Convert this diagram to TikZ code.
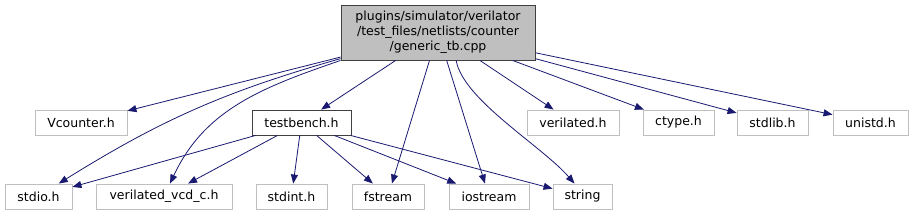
\documentclass[tikz,border=0pt]{standalone}
\usepackage{fontspec}
\setmainfont{DejaVu Sans}
\usepackage{tikz}
\usetikzlibrary{arrows.meta}
\definecolor{edgeblue}{RGB}{25, 25, 112}
\definecolor{boxgrey}{RGB}{191, 191, 191}
\definecolor{linkgrey}{RGB}{64, 64, 64}

\begin{document}
\begin{tikzpicture}[x=1pt, y=1pt, >={Triangle[length=9pt, width=7pt]},
    every node/.style={font=\fontsize{12.5}{15}\selectfont, inner sep=0pt},
    hdr/.style={draw=boxgrey, line width=0.9pt, rectangle, minimum height=25pt},
    inc/.style={->, edgeblue, line width=0.8pt}]
    \useasboundingbox (0,0) rectangle (913,-216);

    % the source file
    \node [draw=linkgrey, fill=boxgrey, line width=0.9pt, minimum width=194pt, minimum height=55pt, align=center] (root) at (438,-32.5) {
        plugins/simulator/verilator\\/test\_files/netlists/counter\\/generic\_tb.cpp
    };

    % first level
    \node [hdr, minimum width=92pt] (vcounter) at (81,-122.5) {Vcounter.h};
    \node [hdr, draw=linkgrey, minimum width=99pt] (testbench) at (301.5,-122.5) {testbench.h};
    \node [hdr, minimum width=92pt] (verilated) at (573,-122.5) {verilated.h};
    \node [hdr, minimum width=71pt] (ctype) at (678.5,-122.5) {ctype.h};
    \node [hdr, minimum width=71pt] (stdlib) at (772.5,-122.5) {stdlib.h};
    \node [hdr, minimum width=75pt] (unistd) at (870.5,-122.5) {unistd.h};

    % second level
    \node [hdr, minimum width=67pt] (stdio) at (38.5,-196.5) {stdio.h};
    \node [hdr, minimum width=136pt] (vcd) at (164,-196.5) {verilated\_vcd\_c.h};
    \node [hdr, minimum width=71pt] (stdint) at (291.5,-196.5) {stdint.h};
    \node [hdr, minimum width=72pt] (fstream) at (388,-196.5) {fstream};
    \node [hdr, minimum width=80pt] (iostream) at (489,-196.5) {iostream};
    \node [hdr, minimum width=59pt] (string) at (582.5,-196.5) {string};

    \draw [inc] (root) -- (vcounter);
    \draw [inc] (root.195) to[bend right=8] (stdio);
    \draw [inc] (root.196) to[out=199, in=65] (vcd);
    \draw [inc] (root) -- (testbench);
    \draw [inc] (root) -- (fstream);
    \draw [inc] (root) -- (iostream);
    \draw [inc] (root.-57) .. controls +(-80:40) and +(131:50) .. ([xshift=-8pt]string.north);
    \draw [inc] (root) -- (verilated);
    \draw [inc] (root) -- (ctype);
    \draw [inc] (root) -- (stdlib);
    \draw [inc] (root) -- (unistd);

    \draw [inc] (testbench) -- (stdio);
    \draw [inc] (testbench) -- (vcd);
    \draw [inc] (testbench) -- (stdint);
    \draw [inc] (testbench) -- (fstream);
    \draw [inc] (testbench) -- (iostream);
    \draw [inc] (testbench) -- (string);
\end{tikzpicture}
\end{document}
